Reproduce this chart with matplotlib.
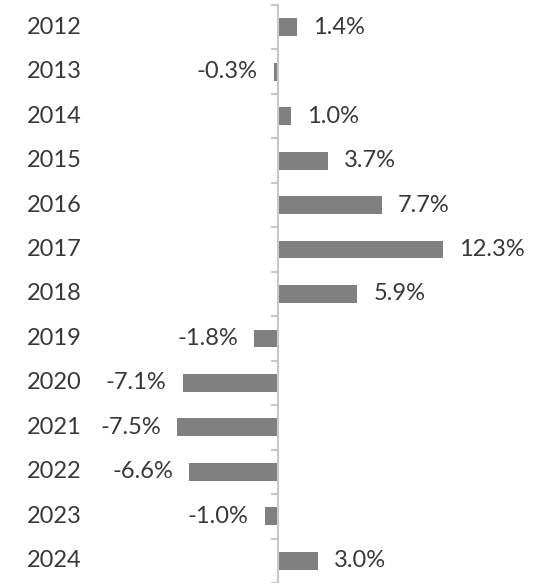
import numpy as np
import matplotlib.pyplot as plt

years = ["2012", "2013", "2014", "2015", "2016", "2017", "2018",
         "2019", "2020", "2021", "2022", "2023", "2024"]
growth = [1.4, -0.3, 1.0, 3.7, 7.7, 12.3, 5.9, -1.8, -7.1, -7.5, -6.6, -1.0, 3.0]

plt.rcParams["font.family"] = ["Lato", "DejaVu Sans"]

PX = 13.45  # pixels per percentage point
fig = plt.figure(figsize=(5.45, 5.83), dpi=100)
ax = fig.add_axes([100 / 545, 0, 440 / 545, 578 / 583])

y = np.arange(len(years))
ax.barh(y, growth, height=0.4, color="#808080")

ax.set_ylim(len(years) - 0.5, -0.5)
ax.set_xlim(-(278 - 100) / PX, (540 - 278) / PX)

for s in ["top", "right", "bottom"]:
    ax.spines[s].set_visible(False)
ax.spines["left"].set_position(("data", 0))
ax.spines["left"].set_color("#c8c8c8")
ax.spines["left"].set_linewidth(1.5)
ax.set_xticks([])
ax.set_yticks(y)
ax.tick_params(axis="y", which="major", length=0, labelleft=False)
ax.set_yticks(np.arange(-0.5, len(years), 1), minor=True)
ax.tick_params(axis="y", which="minor", length=5, width=1.5, color="#c8c8c8", direction="out")

for i, (yr, v) in enumerate(zip(years, growth)):
    ax.text(-(278 - 82) / PX, i, yr, ha="right", va="center", fontsize=17,
            color="#383838")
    off = 11.5 if v >= 0 else -11.5
    ax.annotate(f"{v:.1f}%", (v, i), xytext=(off, 0), textcoords="offset points",
                ha="left" if v >= 0 else "right", va="center", fontsize=17,
                color="#383838")

fig.savefig("out.png", dpi=100)
